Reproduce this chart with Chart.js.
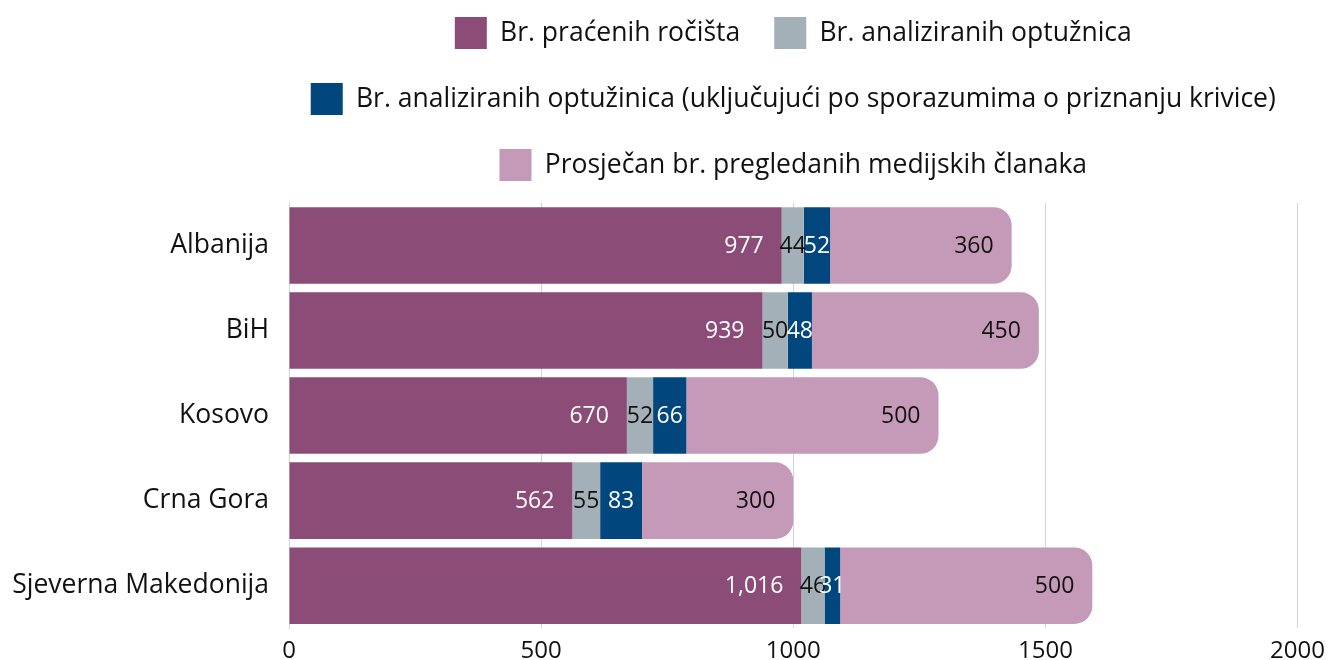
<!DOCTYPE html>
<html>
<head>
<meta charset="utf-8">
<script src="https://cdn.jsdelivr.net/npm/chart.js@4.4.1/dist/chart.umd.min.js"></script>
<style>
  html, body { margin: 0; padding: 0; background: #fff; }
  #wrap { position: relative; width: 1334px; height: 660px; overflow: hidden; }
  #chart { position: absolute; left: 0; top: -17px; }
</style>
</head>
<body>
<div id="wrap"><canvas id="chart" width="1334" height="692"></canvas></div>
<script>
const countries = ['Albanija', 'BiH', 'Kosovo', 'Crna Gora', 'Sjeverna Makedonija'];
const hearings = [977, 939, 670, 562, 1016];
const indictments = [44, 50, 52, 55, 46];
const indictmentsPlea = [52, 48, 66, 83, 31];
const mediaArticles = [360, 450, 500, 300, 500];
const xTicks = [0, 500, 1000, 1500, 2000];

const colors = ['#8b4c77', '#a3b0b8', '#01477e', '#c599b8'];
const labelColors = ['#ffffff', '#111111', '#ffffff', '#111111'];
const FONT = '"Open Sans", "Noto Sans", sans-serif';

// draws the value of each segment near its right end (centred on thin segments)
const segmentLabels = {
    id: 'segmentLabels',
    afterDatasetsDraw(chart) {
        const ctx = chart.ctx;
        ctx.save();
        ctx.font = '23px ' + FONT;
        ctx.textBaseline = 'middle';
        chart.data.datasets.forEach((ds, i) => {
            chart.getDatasetMeta(i).data.forEach((bar, j) => {
                const text = ds.data[j].toLocaleString('en-US');
                const w = ctx.measureText(text).width;
                const segW = bar.x - bar.base;
                ctx.fillStyle = labelColors[i];
                if (segW > w + 36) {
                    ctx.textAlign = 'right';
                    ctx.fillText(text, bar.x - 18, bar.y + 1);
                } else {
                    ctx.textAlign = 'center';
                    ctx.fillText(text, (bar.x + bar.base) / 2, bar.y + 1);
                }
            });
        });
        ctx.restore();
    }
};

// a bit more room below the legend
const legendGap = {
    id: 'legendGap',
    beforeInit(chart) {
        const fit = chart.legend.fit;
        chart.legend.fit = function () {
            fit.call(this);
            this.height += 12;
        };
    }
};

const datasets = [
    { label: 'Br. praćenih ročišta', data: hearings },
    { label: 'Br. analiziranih optužnica', data: indictments },
    { label: 'Br. analiziranih optužinica (uključujući po sporazumima o priznanju krivice)', data: indictmentsPlea },
    { label: 'Prosječan br. pregledanih medijskih članaka', data: mediaArticles }
].map((d, i) => ({
    ...d,
    backgroundColor: colors[i],
    borderWidth: 0,
    borderRadius: i === 3 ? 18 : 0,
    borderSkipped: 'start',
    barPercentage: 0.9,
    categoryPercentage: 1
}));

new Chart(document.getElementById('chart'), {
    type: 'bar',
    data: { labels: countries, datasets: datasets },
    options: {
        indexAxis: 'y',
        responsive: false,
        animation: false,
        layout: { padding: { left: 12, right: 7, bottom: 0 } },
        plugins: {
            legend: {
                position: 'top',
                fullSize: false,
                labels: {
                    boxWidth: 32,
                    boxHeight: 32,
                    padding: 34,
                    color: '#111',
                    font: { family: FONT, size: 26.5 }
                }
            },
            tooltip: { enabled: false }
        },
        scales: {
            x: {
                stacked: true,
                min: 0,
                max: 2000,
                afterBuildTicks: (axis) => { axis.ticks = xTicks.map(v => ({ value: v })); },
                grid: { color: '#d4d4d4', drawTicks: false },
                border: { display: false },
                ticks: {
                    color: '#111',
                    padding: 9,
                    font: { family: FONT, size: 24 },
                    callback: (v) => String(v)
                }
            },
            y: {
                stacked: true,
                afterFit: (axis) => { axis.width = 277; },
                grid: { display: false, drawTicks: false },
                border: { display: true, color: '#d4d4d4' },
                ticks: {
                    color: '#111',
                    padding: 20,
                    font: { family: FONT, size: 26.5 }
                }
            }
        }
    },
    plugins: [segmentLabels, legendGap]
});
</script>
</body>
</html>
